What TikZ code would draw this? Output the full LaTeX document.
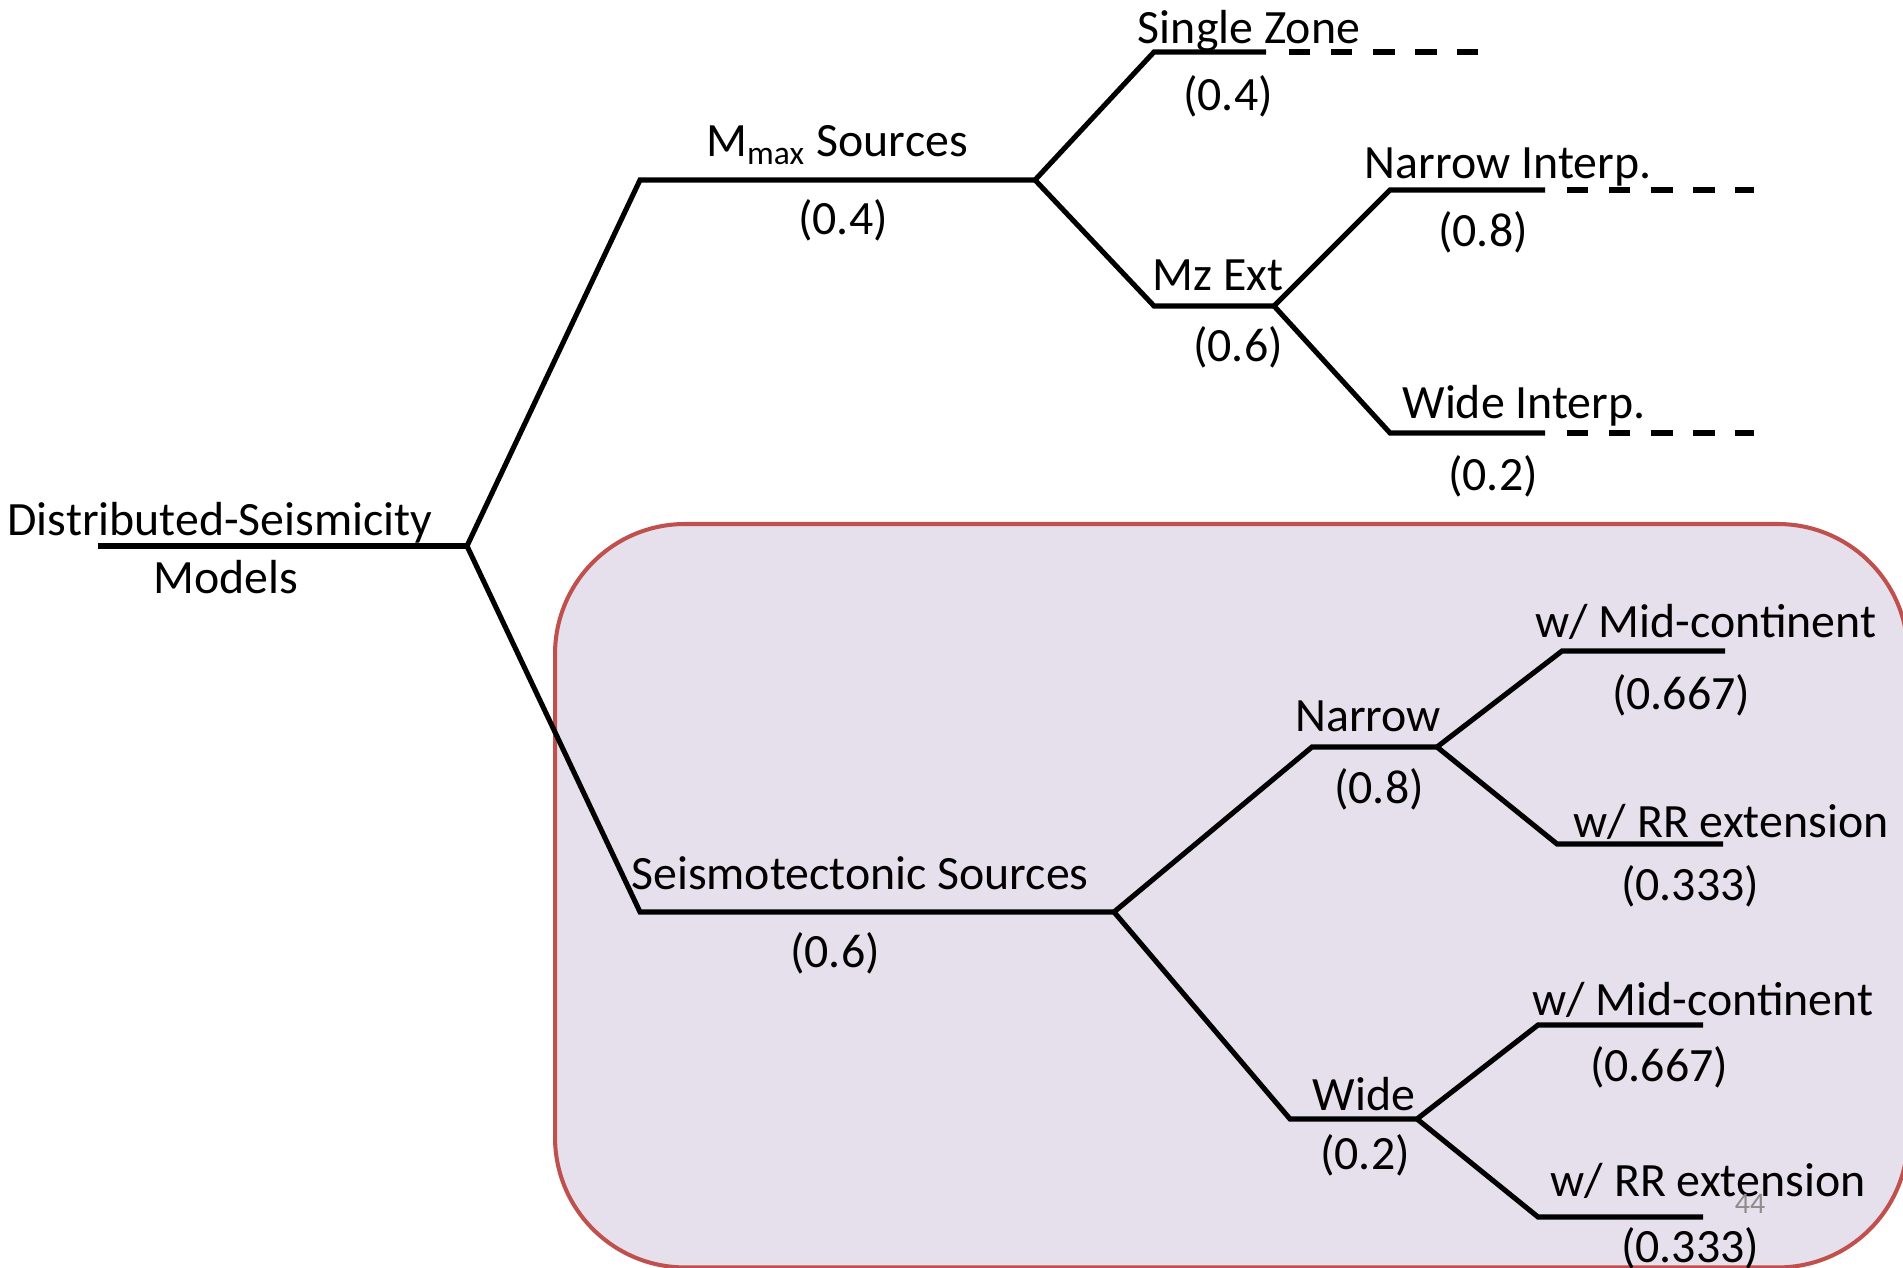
\documentclass[tikz,border=0pt]{standalone}
\usepackage{fontspec}
\setmainfont{Carlito}
\definecolor{boxfill}{HTML}{E5E0EC}
\definecolor{boxline}{HTML}{C0504D}
\definecolor{pagenum}{HTML}{8C8C8C}
\begin{document}
\begin{tikzpicture}[x=0.01cm,y=-0.01cm,
  lbl/.style={inner sep=0pt,anchor=base,font=\fontsize{13.6}{15}\selectfont},
  prob/.style={lbl,yshift=-0.04cm},
  branch/.style={line width=1.45pt,line join=miter},
  dashtail/.style={line width=1.45pt,dash pattern=on 6.1pt off 5.85pt},
  groupbox/.style={draw=boxline,fill=boxfill,line width=1.15pt,rounded corners=1.3cm}]
\useasboundingbox (0,0) rectangle (1903,1268);
\fill[white] (0,0) rectangle (1903,1268);
\node[groupbox,minimum width=13.52cm,minimum height=7.43cm,anchor=north west] (grp) at (553,522) {};
% coordinates
\coordinate (r0) at (98,546);
\coordinate (r1) at (467,546);
\coordinate (m0) at (640,180);
\coordinate (m1) at (1035,180);
\coordinate (sz0) at (1154,52);
\coordinate (sz1) at (1266,52);
\coordinate (sz2) at (1289,52);
\coordinate (sz3) at (1478,52);
\coordinate (mz0) at (1154,306);
\coordinate (mz1) at (1274,306);
\coordinate (ni0) at (1390,190);
\coordinate (ni1) at (1545,190);
\coordinate (ni2) at (1567,190);
\coordinate (ni3) at (1754,190);
\coordinate (wi0) at (1390,433);
\coordinate (wi1) at (1545,433);
\coordinate (wi2) at (1567,433);
\coordinate (wi3) at (1754,433);
\coordinate (s0) at (640,912);
\coordinate (s1) at (1114,912);
\coordinate (n0) at (1312,747);
\coordinate (n1) at (1437,747);
\coordinate (nm0) at (1562,651);
\coordinate (nm1) at (1725,651);
\coordinate (nr0) at (1557,844);
\coordinate (nr1) at (1723,844);
\coordinate (w0) at (1290,1119);
\coordinate (w1) at (1417,1119);
\coordinate (wm0) at (1538,1025);
\coordinate (wm1) at (1703,1025);
\coordinate (wr0) at (1538,1217);
\coordinate (wr1) at (1703,1217);
% branches
\draw[branch] (r0) -- (r1);
\draw[branch] (r1) -- (m0) -- (m1);
\draw[branch] (m1) -- (sz0) -- (sz1);
\draw[dashtail] (sz2) -- (sz3);
\draw[branch] (m1) -- (mz0) -- (mz1);
\draw[branch] (mz1) -- (ni0) -- (ni1);
\draw[dashtail] (ni2) -- (ni3);
\draw[branch] (mz1) -- (wi0) -- (wi1);
\draw[dashtail] (wi2) -- (wi3);
\draw[branch] (r1) -- (s0) -- (s1);
\draw[branch] (s1) -- (n0) -- (n1);
\draw[branch] (n1) -- (nm0) -- (nm1);
\draw[branch] (n1) -- (nr0) -- (nr1);
\draw[branch] (s1) -- (w0) -- (w1);
\draw[branch] (w1) -- (wm0) -- (wm1);
\draw[branch] (w1) -- (wr0) -- (wr1);
% labels
\node[lbl] (tDS) at (220,536) {Distributed-Seismicity};
\node[lbl] (tMod) at (226,594) {Models};
\node[lbl] (tMmax) at (837,157) {M\textsubscript{max} Sources};
\node[prob] (pMmax) at (843,231) {(0.4)};
\node[lbl] (tSZ) at (1249,44) {Single Zone};
\node[prob] (pSZ) at (1228,107) {(0.4)};
\node[lbl] (tMz) at (1218,291) {Mz Ext};
\node[prob] (pMz) at (1238,358) {(0.6)};
\node[lbl] (tNI) at (1508,179) {Narrow Interp.};
\node[prob] (pNI) at (1483,243) {(0.8)};
\node[lbl] (tWI) at (1524,419) {Wide Interp.};
\node[prob] (pWI) at (1493,487) {(0.2)};
\node[lbl] (tSS) at (860,890) {Seismotectonic Sources};
\node[prob] (pSS) at (835,964) {(0.6)};
\node[lbl] (tN) at (1368,732) {Narrow};
\node[prob] (pN) at (1379,800) {(0.8)};
\node[lbl] (tNM) at (1706,638) {w/ Mid-continent};
\node[prob] (pNM) at (1681,706) {(0.667)};
\node[lbl] (tNR) at (1731,838) {w/ RR extension};
\node[prob] (pNR) at (1690,897) {(0.333)};
\node[lbl] (tW) at (1364,1111) {Wide};
\node[prob] (pW) at (1365,1166) {(0.2)};
\node[lbl] (tWM) at (1703,1016) {w/ Mid-continent};
\node[prob] (pWM) at (1659,1078) {(0.667)};
\node[lbl] (tWR) at (1708,1197) {w/ RR extension};
\node[prob] (pWR) at (1690,1258) {(0.333)};
\node[inner sep=0pt,anchor=base,font=\fontsize{8.5}{9}\selectfont,text=pagenum] (pg) at (1750,1213) {44};
\end{tikzpicture}
\end{document}
